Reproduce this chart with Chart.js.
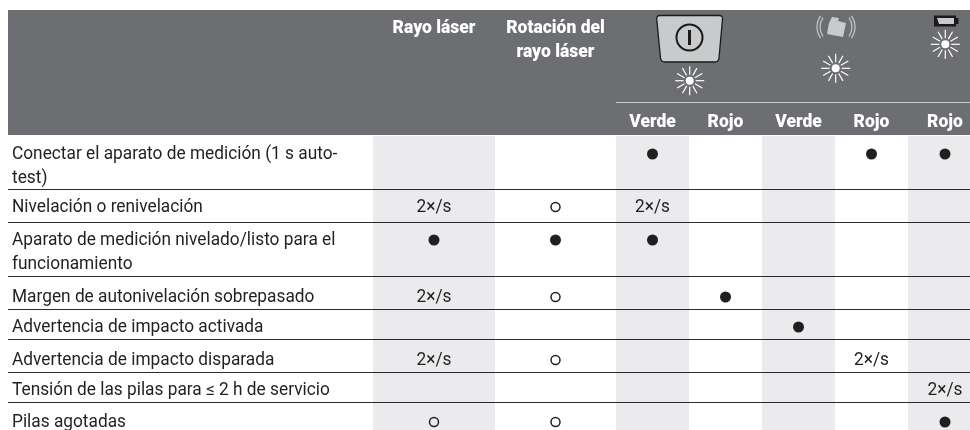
<!DOCTYPE html>
<html>
<head>
<meta charset="utf-8">
<style>
  html, body { margin: 0; background: #fff; }
  canvas { display: block; }
</style>
<script src="https://cdn.jsdelivr.net/npm/chart.js@4"></script>
</head>
<body>
<canvas id="tabla" width="970" height="430"></canvas>
<script>
// table content
const rowLabels = [
  ["Conectar el aparato de medición (1 s auto-", "test)"],
  ["Nivelación o renivelación"],
  ["Aparato de medición nivelado/listo para el", "funcionamiento"],
  ["Margen de autonivelación sobrepasado"],
  ["Advertencia de impacto activada"],
  ["Advertencia de impacto disparada"],
  ["Tensión de las pilas para ≤ 2 h de servicio"],
  ["Pilas agotadas"]
];
const columnHeads = [["Rayo láser"], ["Rotación del", "rayo láser"]];
const subHeads = ["Verde", "Rojo", "Verde", "Rojo", "Rojo"];

// one list per column: on = steady, off = not lit, "" = nothing
const rayoLaser = ["", "2×/s", "on", "2×/s", "", "2×/s", "", "off"];
const rotacion = ["", "off", "on", "off", "", "off", "", "off"];
const encendidoVerde = ["on", "2×/s", "on", "", "", "", "", ""];
const encendidoRojo = ["", "", "", "on", "", "", "", ""];
const impactoVerde = ["", "", "", "", "on", "", "", ""];
const impactoRojo = ["on", "", "", "", "", "2×/s", "", ""];
const pilasRojo = ["on", "", "", "", "", "", "2×/s", "on"];
const columns = [rayoLaser, rotacion, encendidoVerde, encendidoRojo, impactoVerde, impactoRojo, pilasRojo];

// layout, in axis units
const colEdges = [373, 495, 616, 689, 762, 835, 908, 982];
const rowEdges = [135, 189, 222, 276, 309, 339, 372, 402, 430];
const rowInset = [19, 18, 18, 21, 18, 21, 18, 20];

const colCenter = i => (colEdges[i] + colEdges[i + 1]) / 2;
const rowY = r => rowEdges[r] + rowInset[r];

function marks(kind) {
  const out = [];
  columns.forEach((col, c) => col.forEach((v, r) => {
    if (v === kind) out.push({ x: colCenter(c), y: rowY(r) });
  }));
  return out;
}

const BODY = '18px "Roboto"';
const BOLD = '900 19px "Roboto"';
const INK = '#231f20';

// the original type is narrower than Roboto, so squeeze it a bit
function squeezed(ctx, text, x, y, sx) {
  ctx.save();
  ctx.translate(x, y);
  ctx.scale(sx, 1);
  ctx.fillText(text, 0, 0);
  ctx.restore();
}

function sun(ctx, x, y) {
  ctx.save();
  ctx.translate(x, y);
  ctx.strokeStyle = '#fff';
  ctx.lineWidth = 1.2;
  for (let i = 0; i < 12; i++) {
    const a = i * Math.PI / 6;
    ctx.beginPath();
    ctx.moveTo(Math.sin(a) * 6, Math.cos(a) * 6);
    ctx.lineTo(Math.sin(a) * 14.5, Math.cos(a) * 14.5);
    ctx.stroke();
  }
  ctx.fillStyle = '#fff';
  ctx.beginPath();
  ctx.arc(0, 0, 4, 0, Math.PI * 2);
  ctx.fill();
  ctx.restore();
}

function powerButton(ctx) {
  ctx.save();
  ctx.beginPath();
  ctx.moveTo(660, 15.5);
  ctx.lineTo(719, 15.5);
  ctx.quadraticCurveTo(723, 15.5, 722.5, 19);
  ctx.lineTo(719, 58);
  ctx.quadraticCurveTo(718.5, 62, 715, 62);
  ctx.lineTo(665, 62);
  ctx.quadraticCurveTo(661, 62, 660.5, 58);
  ctx.lineTo(656.7, 19);
  ctx.quadraticCurveTo(656.5, 15.5, 660, 15.5);
  ctx.closePath();
  ctx.fillStyle = '#c9cacc';
  ctx.fill();
  ctx.strokeStyle = '#1a1a1a';
  ctx.lineWidth = 1.3;
  ctx.stroke();
  ctx.lineWidth = 2;
  ctx.beginPath();
  ctx.arc(689.5, 37.5, 13, 0, Math.PI * 2);
  ctx.stroke();
  ctx.lineWidth = 3;
  ctx.beginPath();
  ctx.moveTo(689.5, 30);
  ctx.lineTo(689.5, 45);
  ctx.stroke();
  ctx.restore();
}

function impactIcon(ctx) {
  ctx.save();
  ctx.fillStyle = '#c9cacc';
  ctx.strokeStyle = '#c9cacc';
  ctx.beginPath();
  ctx.moveTo(829, 23);
  ctx.lineTo(832, 17);
  ctx.lineTo(839, 18);
  ctx.lineTo(838, 21);
  ctx.lineTo(846, 23);
  ctx.lineTo(843, 37);
  ctx.lineTo(827, 34);
  ctx.closePath();
  ctx.fill();
  ctx.lineWidth = 1.2;
  [16, 19].forEach(r => {
    ctx.beginPath();
    ctx.arc(836, 27, r, Math.PI * 0.8, Math.PI * 1.2);
    ctx.stroke();
    ctx.beginPath();
    ctx.arc(836, 27, r, -Math.PI * 0.2, Math.PI * 0.2);
    ctx.stroke();
  });
  ctx.restore();
}

function batteryIcon(ctx) {
  ctx.save();
  ctx.fillStyle = '#1a1a1a';
  ctx.fillRect(934, 15.5, 22, 11);
  ctx.fillRect(956, 18, 2.5, 6);
  ctx.fillStyle = '#c9cacc';
  ctx.beginPath();
  ctx.moveTo(937, 18);
  ctx.lineTo(954, 18);
  ctx.lineTo(954, 24);
  ctx.lineTo(939, 24);
  ctx.closePath();
  ctx.fill();
  ctx.restore();
}

const tablePlugin = {
  id: 'tablePlugin',
  beforeDraw(chart) {
    const { ctx, scales: { x, y } } = chart;
    const px = v => x.getPixelForValue(v);
    const py = v => y.getPixelForValue(v);
    ctx.save();
    // header block
    ctx.fillStyle = '#6d6e71';
    ctx.fillRect(px(8), py(10), px(970) - px(8), py(rowEdges[0]) - py(10));
    // shaded columns
    ctx.fillStyle = '#ebebed';
    [0, 2, 4, 6].forEach(c => {
      ctx.fillRect(px(colEdges[c]), py(rowEdges[0]) + 1, px(colEdges[c + 1]) - px(colEdges[c]), py(430) - py(rowEdges[0]));
    });
    // line under the icons
    ctx.fillStyle = '#c9cacc';
    ctx.fillRect(px(colEdges[2]), py(102), px(970) - px(colEdges[2]), 1);
    ctx.restore();
  },
  afterDatasetsDraw(chart) {
    const { ctx, scales: { x, y } } = chart;
    ctx.save();
    ctx.textBaseline = 'middle';

    // row labels
    ctx.font = BODY;
    ctx.fillStyle = INK;
    ctx.textAlign = 'left';
    rowLabels.forEach((lines, r) => {
      lines.forEach((t, l) => {
        squeezed(ctx, t, x.getPixelForValue(12), y.getPixelForValue(rowY(r) + l * 24), 0.96);
      });
    });

    // 2×/s cells
    ctx.textAlign = 'center';
    columns.forEach((col, c) => col.forEach((v, r) => {
      if (v === '2×/s') squeezed(ctx, v, x.getPixelForValue(colCenter(c)), y.getPixelForValue(rowY(r)), 0.96);
    }));

    // header text
    ctx.font = BOLD;
    ctx.fillStyle = '#fff';
    columnHeads.forEach((lines, c) => {
      lines.forEach((t, l) => {
        squeezed(ctx, t, x.getPixelForValue(colCenter(c)), y.getPixelForValue(28 + l * 24.5), 0.92);
      });
    });
    subHeads.forEach((t, i) => {
      squeezed(ctx, t, x.getPixelForValue(colCenter(i + 2)), y.getPixelForValue(122), 0.92);
    });

    powerButton(ctx);
    impactIcon(ctx);
    batteryIcon(ctx);
    sun(ctx, 689.7, 80.7);
    sun(ctx, 835.7, 68.3);
    sun(ctx, 945.3, 44.3);
    ctx.restore();
  }
};

new Chart(document.getElementById("tabla"), {
  type: 'scatter',
  data: {
    datasets: [{
      label: "Encendido",
      data: marks('on'),
      pointStyle: 'circle',
      pointRadius: 5.5,
      pointBackgroundColor: INK,
      pointBorderWidth: 0
    }, {
      label: "Apagado",
      data: marks('off'),
      pointStyle: 'circle',
      pointRadius: 4.5,
      pointBackgroundColor: 'rgba(0,0,0,0)',
      pointBorderColor: INK,
      pointBorderWidth: 1.5
    }]
  },
  options: {
    responsive: false,
    animation: false,
    layout: { autoPadding: false, padding: { left: 8, top: 10, right: 0, bottom: 0 } },
    plugins: { legend: { display: false }, tooltip: { enabled: false } },
    scales: {
      x: {
        type: 'linear',
        min: 8,
        max: 970,
        display: false
      },
      y: {
        type: 'linear',
        reverse: true,
        min: 10,
        max: 430,
        afterBuildTicks(axis) {
          axis.ticks = rowEdges.slice(1, -1).map(v => ({ value: v }));
        },
        ticks: { display: false },
        border: { display: false },
        grid: { color: '#2b2b2d', lineWidth: 1, drawTicks: false }
      }
    }
  },
  plugins: [tablePlugin]
});
</script>
</body>
</html>
